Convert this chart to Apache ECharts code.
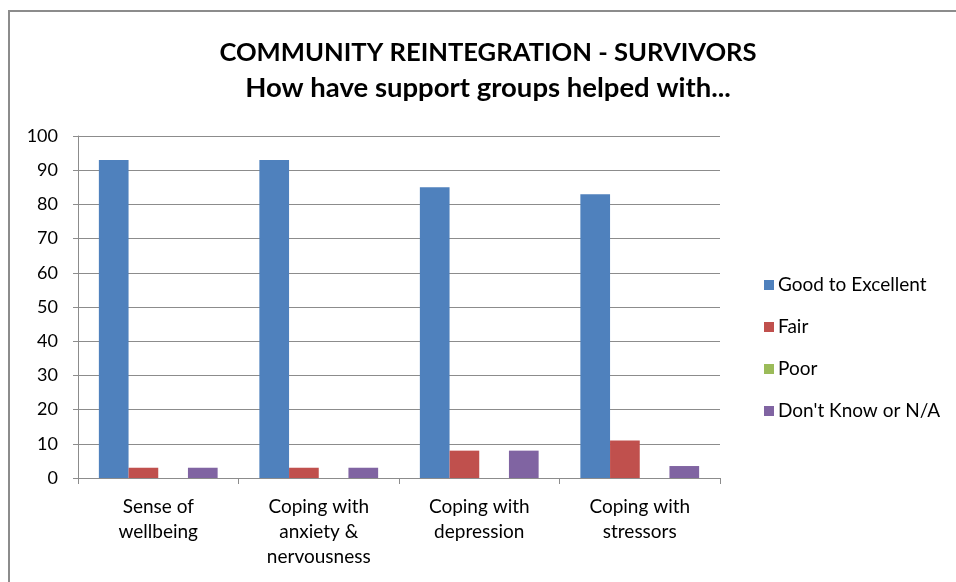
<!DOCTYPE html>
<html>
<head>
<meta charset="utf-8">
<script src="https://cdn.jsdelivr.net/npm/echarts@6/dist/echarts.min.js"></script>
<style>
  html, body { margin: 0; padding: 0; background: #fff; }
  #chart { width: 956px; height: 582px; }
</style>
</head>
<body>
<div id="chart"></div>
<script>
// Survey results: how support groups helped survivors
const categories = [
  'Sense of\nwellbeing',
  'Coping with\nanxiety &\nnervousness',
  'Coping with\ndepression',
  'Coping with\nstressors'
];
const goodToExcellent = [93, 93, 85, 83];
const fair = [3, 3, 8, 11];
const poor = [0, 0, 0, 0];
const dontKnow = [3, 3, 8, 3.5];
const seriesNames = ['Good to Excellent', 'Fair', 'Poor', "Don't Know or N/A"];
const seriesColors = ['#4f81bd', '#c0504d', '#9bbb59', '#8064a2'];
const yTicks = [0, 10, 20, 30, 40, 50, 60, 70, 80, 90, 100];

const FONT = 'Lato, "Open Sans", sans-serif';
const seriesData = [goodToExcellent, fair, poor, dontKnow];

const chart = echarts.init(document.getElementById('chart'));
chart.setOption({
  animation: false,
  textStyle: { fontFamily: FONT },
  title: {
    text: 'COMMUNITY REINTEGRATION - SURVIVORS',
    subtext: 'How have support groups helped with...',
    left: 483,
    top: 33,
    textAlign: 'center',
    itemGap: 5,
    textStyle: { fontFamily: FONT, fontSize: 25.6, fontWeight: 'bold', color: '#000', lineHeight: 30 },
    subtextStyle: { fontFamily: FONT, fontSize: 27.5, fontWeight: 'bold', color: '#000', lineHeight: 30 }
  },
  graphic: [{
    type: 'rect',
    shape: { x: 9, y: 11, width: 1000, height: 620 },
    style: { fill: 'none', stroke: '#8c8c8c', lineWidth: 2 },
    silent: true
  }],
  legend: {
    orient: 'vertical',
    left: 759,
    top: 269,
    itemWidth: 10,
    itemHeight: 10,
    itemGap: 20,
    icon: 'rect',
    data: seriesNames,
    textStyle: { fontFamily: FONT, fontSize: 19, color: '#000', lineHeight: 22, padding: [0, 0, 0, -1] }
  },
  grid: { left: 78, right: 236, top: 136, bottom: 104, containLabel: false },
  xAxis: {
    type: 'category',
    data: categories,
    axisLine: { lineStyle: { color: '#8c8c8c', width: 1 } },
    axisTick: { show: true, length: 6, lineStyle: { color: '#8c8c8c' } },
    axisLabel: { fontFamily: FONT, fontSize: 19, color: '#000', lineHeight: 25, margin: 16 }
  },
  yAxis: {
    type: 'value',
    min: yTicks[0],
    max: yTicks[yTicks.length - 1],
    interval: 10,
    axisLine: { show: true, lineStyle: { color: '#8c8c8c', width: 1 } },
    axisTick: { show: true, length: 5, inside: false, lineStyle: { color: '#8c8c8c' } },
    axisLabel: { fontFamily: FONT, fontSize: 18, color: '#000', margin: 20 },
    splitLine: { show: true, lineStyle: { color: '#8c8c8c', width: 1 } }
  },
  series: seriesNames.map((name, i) => ({
    name: name,
    type: 'bar',
    data: seriesData[i],
    barGap: '0%',
    barCategoryGap: '26%',
    itemStyle: { color: seriesColors[i] }
  }))
});
</script>
</body>
</html>
